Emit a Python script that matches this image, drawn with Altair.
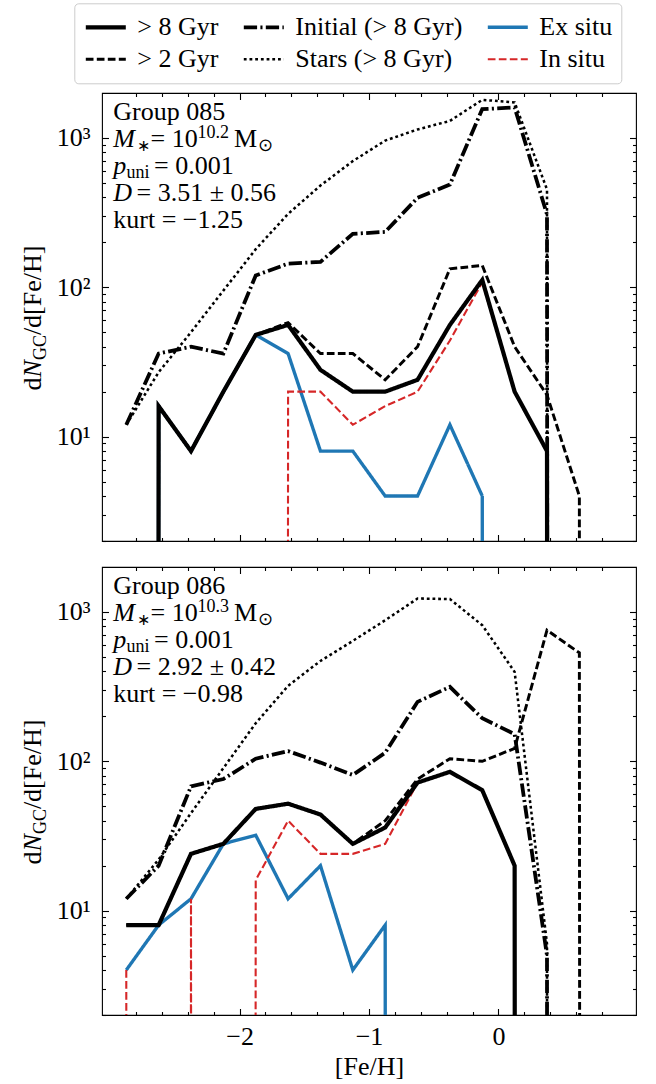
import altair as alt
import pandas as pd

FONT = "Liberation Serif"

# ---------------- data ----------------
FEH_BINS = [-2.875, -2.625, -2.375, -2.125, -1.875, -1.625, -1.375, -1.125,
            -0.875, -0.625, -0.375, -0.125, 0.125, 0.375, 0.625, 0.875]

SERIES = ["> 8 Gyr", "Initial (> 8 Gyr)", "Ex situ", "> 2 Gyr", "Stars (> 8 Gyr)", "In situ"]

# Group 085
G085_GT8 = [0, 16, 8, 20, 48, 56, 28, 20, 20, 24, 56, 112, 20, 8, 0, 0]
G085_GT2 = [0, 16, 8, 20, 48, 58, 36, 36, 24, 40, 133, 140, 40, 19, 4, 0]
G085_INIT = [12, 36, 40, 36, 120, 144, 148, 228, 235, 397, 488, 1560, 1600, 307, 0, 0]
G085_STARS = [12, 27, 50, 95, 180, 310, 480, 700, 960, 1140, 1300, 1800, 1730, 452, 0, 0]
G085_EX = [0, 16, 8, 20, 48, 36, 8, 8, 4, 4, 12, 4, 0, 0, 0, 0]
G085_IN = [0, 0, 0, 0, 0, 20, 20, 12, 16, 20, 44, 108, 20, 8, 0, 0]

# Group 086
G086_GT8 = [8, 8, 24, 28, 48, 52, 44, 28, 36, 72, 85, 64, 20, 0, 0, 0]
G086_GT2 = [8, 8, 24, 28, 48, 52, 44, 28, 40, 76, 104, 100, 122, 755, 532, 0]
G086_INIT = [12, 20, 68, 76, 104, 117, 98, 81, 114, 250, 315, 194, 152, 5, 0, 0]
G086_STARS = [12, 22, 45, 90, 180, 320, 470, 640, 880, 1230, 1220, 815, 397, 6, 0, 0]
G086_EX = [4, 8, 12, 28, 32, 12, 20, 4, 8, 0, 0, 0, 0, 0, 0, 0]
G086_IN = [4, 0, 12, 0, 16, 40, 24, 24, 28, 72, 85, 64, 20, 0, 0, 0]

G085_TEXT = ["Group 085", "10.2", "= 0.001", "= 3.51 ± 0.56", "kurt = −1.25"]
G086_TEXT = ["Group 086", "10.3", "= 0.001", "= 2.92 ± 0.42", "kurt = −0.98"]

X_MAJOR = [-2, -1, 0]
X_MINOR = [-2.8, -2.6, -2.4, -2.2, -1.8, -1.6, -1.4, -1.2, -0.8, -0.6, -0.4, -0.2,
           0.2, 0.4, 0.6, 0.8]
Y_MAJOR = [10, 100, 1000]
Y_MINOR = [2, 3, 4, 5, 6, 7, 8, 9, 20, 30, 40, 50, 60, 70, 80, 90,
           200, 300, 400, 500, 600, 700, 800, 900]

# ---------------- style ----------------
W, H = 534, 448
TINY = 1e-300  # log(0) handled like matplotlib's clipping: drop off the axis
XSCALE = alt.Scale(domain=[-3.0625, 1.0625], nice=False, zero=False)
YSCALE = alt.Scale(type="log", domain=[2, 2000], nice=False)

COLORS = ["#000000", "#000000", "#1f77b4", "#000000", "#000000", "#d62728"]
DASHES = [[1, 0], [13.3, 3.3, 2.1, 3.3], [1, 0], [7.7, 3.3], [2.8, 2.9], [7.7, 3.3]]
WIDTHS = [4.2, 2.1, 2.0, 2.1, 2.8, 2.1]

LEGEND = alt.Legend(
    title=None, orient="none", legendX=-27.7, legendY=-89.7, columns=3,
    direction="horizontal", symbolType="stroke", symbolSize=1600, clipHeight=30,
    labelFont=FONT, labelFontSize=26, labelColor="black", labelOffset=9,
    labelLimit=400, strokeColor="#cccccc", cornerRadius=4, padding=9,
    fillColor="white", rowPadding=2, columnPadding=22,
)


def xaxis(orient, values, size, labels=False, title=None):
    kw = dict(orient=orient, values=values, tickSize=size, offset=-size, domain=False,
              grid=False, labels=labels, ticks=True, tickColor="black", tickWidth=1.1,
              labelFont=FONT, labelFontSize=26, labelColor="black", labelPadding=8,
              labelExpr="datum.value < 0 ? '−' + abs(datum.value) : '' + datum.value",
              title=title)
    if title:
        kw.update(titleFont=FONT, titleFontSize=26, titleFontWeight="normal",
                  titleColor="black", titlePadding=4)
    return alt.Axis(**kw)


def yaxis(orient, values, size, labels=False):
    return alt.Axis(orient=orient, values=values, tickSize=size, offset=-size, domain=False,
                    grid=False, labels=labels, ticks=True, tickColor="black", tickWidth=1.1,
                    labelFont=FONT, labelFontSize=26, labelColor="black", labelPadding=12,
                    labelExpr="datum.value >= 1000 ? '10³' : datum.value >= 100 ? '10²' : '10¹'",
                    title=None)


def text_layer(txt, x, y, size=26, italic=False, angle=None):
    props = dict(font=FONT, fontSize=size, align="left", baseline="alphabetic", color="black")
    if italic:
        props["fontStyle"] = "italic"
    if angle is not None:
        props["angle"] = angle
    return alt.Chart(pd.DataFrame({"t": [txt]})).mark_text(**props).encode(
        text="t:N", x=alt.value(x), y=alt.value(y))


def panel(values, texts, bottom):
    rows = []
    for name, vals in zip(SERIES, values):
        for x, v in zip(FEH_BINS, vals):
            rows.append({"feh": x, "n": v if v > 0 else TINY, "series": name})
    df = pd.DataFrame(rows)

    enc = dict(
        color=alt.Color("series:N", scale=alt.Scale(domain=SERIES, range=COLORS), legend=LEGEND),
        strokeDash=alt.StrokeDash("series:N", scale=alt.Scale(domain=SERIES, range=DASHES), legend=LEGEND),
        strokeWidth=alt.StrokeWidth("series:N", scale=alt.Scale(domain=SERIES, range=WIDTHS), legend=LEGEND),
    )
    # z-order and axis carriers
    plan = [
        ("Ex situ", xaxis("bottom", X_MAJOR, 6.5, labels=bottom, title="[Fe/H]" if bottom else None),
         yaxis("left", Y_MAJOR, 6.5, labels=True)),
        ("In situ", xaxis("bottom", X_MINOR, 3.5), yaxis("left", Y_MINOR, 3.5)),
        ("Stars (> 8 Gyr)", xaxis("top", X_MAJOR, 6.5), yaxis("right", Y_MAJOR, 6.5)),
        ("Initial (> 8 Gyr)", xaxis("top", X_MINOR, 3.5), yaxis("right", Y_MINOR, 3.5)),
        ("> 2 Gyr", None, None),
        ("> 8 Gyr", None, None),
    ]
    layers = []
    for name, xa, ya in plan:
        layers.append(
            alt.Chart(df).transform_filter(alt.datum.series == name)
            .mark_line(clip=True)
            .encode(x=alt.X("feh:Q", scale=XSCALE, axis=xa),
                    y=alt.Y("n:Q", scale=YSCALE, axis=ya),
                    **enc)
        )

    # annotation block
    bl = [27, 54, 81, 108, 135]
    layers += [
        text_layer(texts[0], 11.3, bl[0]),
        text_layer("M", 11.3, bl[1], italic=True),
        text_layer("∗", 34.5, bl[1] + 4, size=16),
        text_layer("= 10", 48.5, bl[1]),
        text_layer(texts[1], 95.5, bl[1] - 9, size=18),
        text_layer("M", 132, bl[1]),
        text_layer("⊙", 155.5, bl[1] + 4, size=18),
        text_layer("p", 11.3, bl[2], italic=True),
        text_layer("uni", 24.5, bl[2] + 4, size=18),
        text_layer(texts[2], 52, bl[2]),
        text_layer("D", 11.3, bl[3], italic=True),
        text_layer(texts[3], 34.5, bl[3]),
        text_layer(texts[4], 11.3, bl[4]),
        # y title pieces (rotated)
        text_layer("d", -61, 297.4, angle=270),
        text_layer("N", -61, 284.4, italic=True, angle=270),
        text_layer("GC", -56, 267.1, size=18, angle=270),
        text_layer("/d[Fe/H]", -61, 242.1, angle=270),
    ]
    return alt.layer(*layers).resolve_axis(x="independent", y="independent").properties(
        width=W, height=H)


top = panel([G085_GT8, G085_INIT, G085_EX, G085_GT2, G085_STARS, G085_IN], G085_TEXT, False)
bot = panel([G086_GT8, G086_INIT, G086_EX, G086_GT2, G086_STARS, G086_IN], G086_TEXT, True)

chart = alt.vconcat(top, bot, spacing=22).properties(
    padding={"left": 19, "top": 2, "right": 8, "bottom": 4},
    background="white",
).configure_view(stroke="black", strokeWidth=1.1)

chart.save("out.html", embed_options={"renderer": "svg", "actions": False})
